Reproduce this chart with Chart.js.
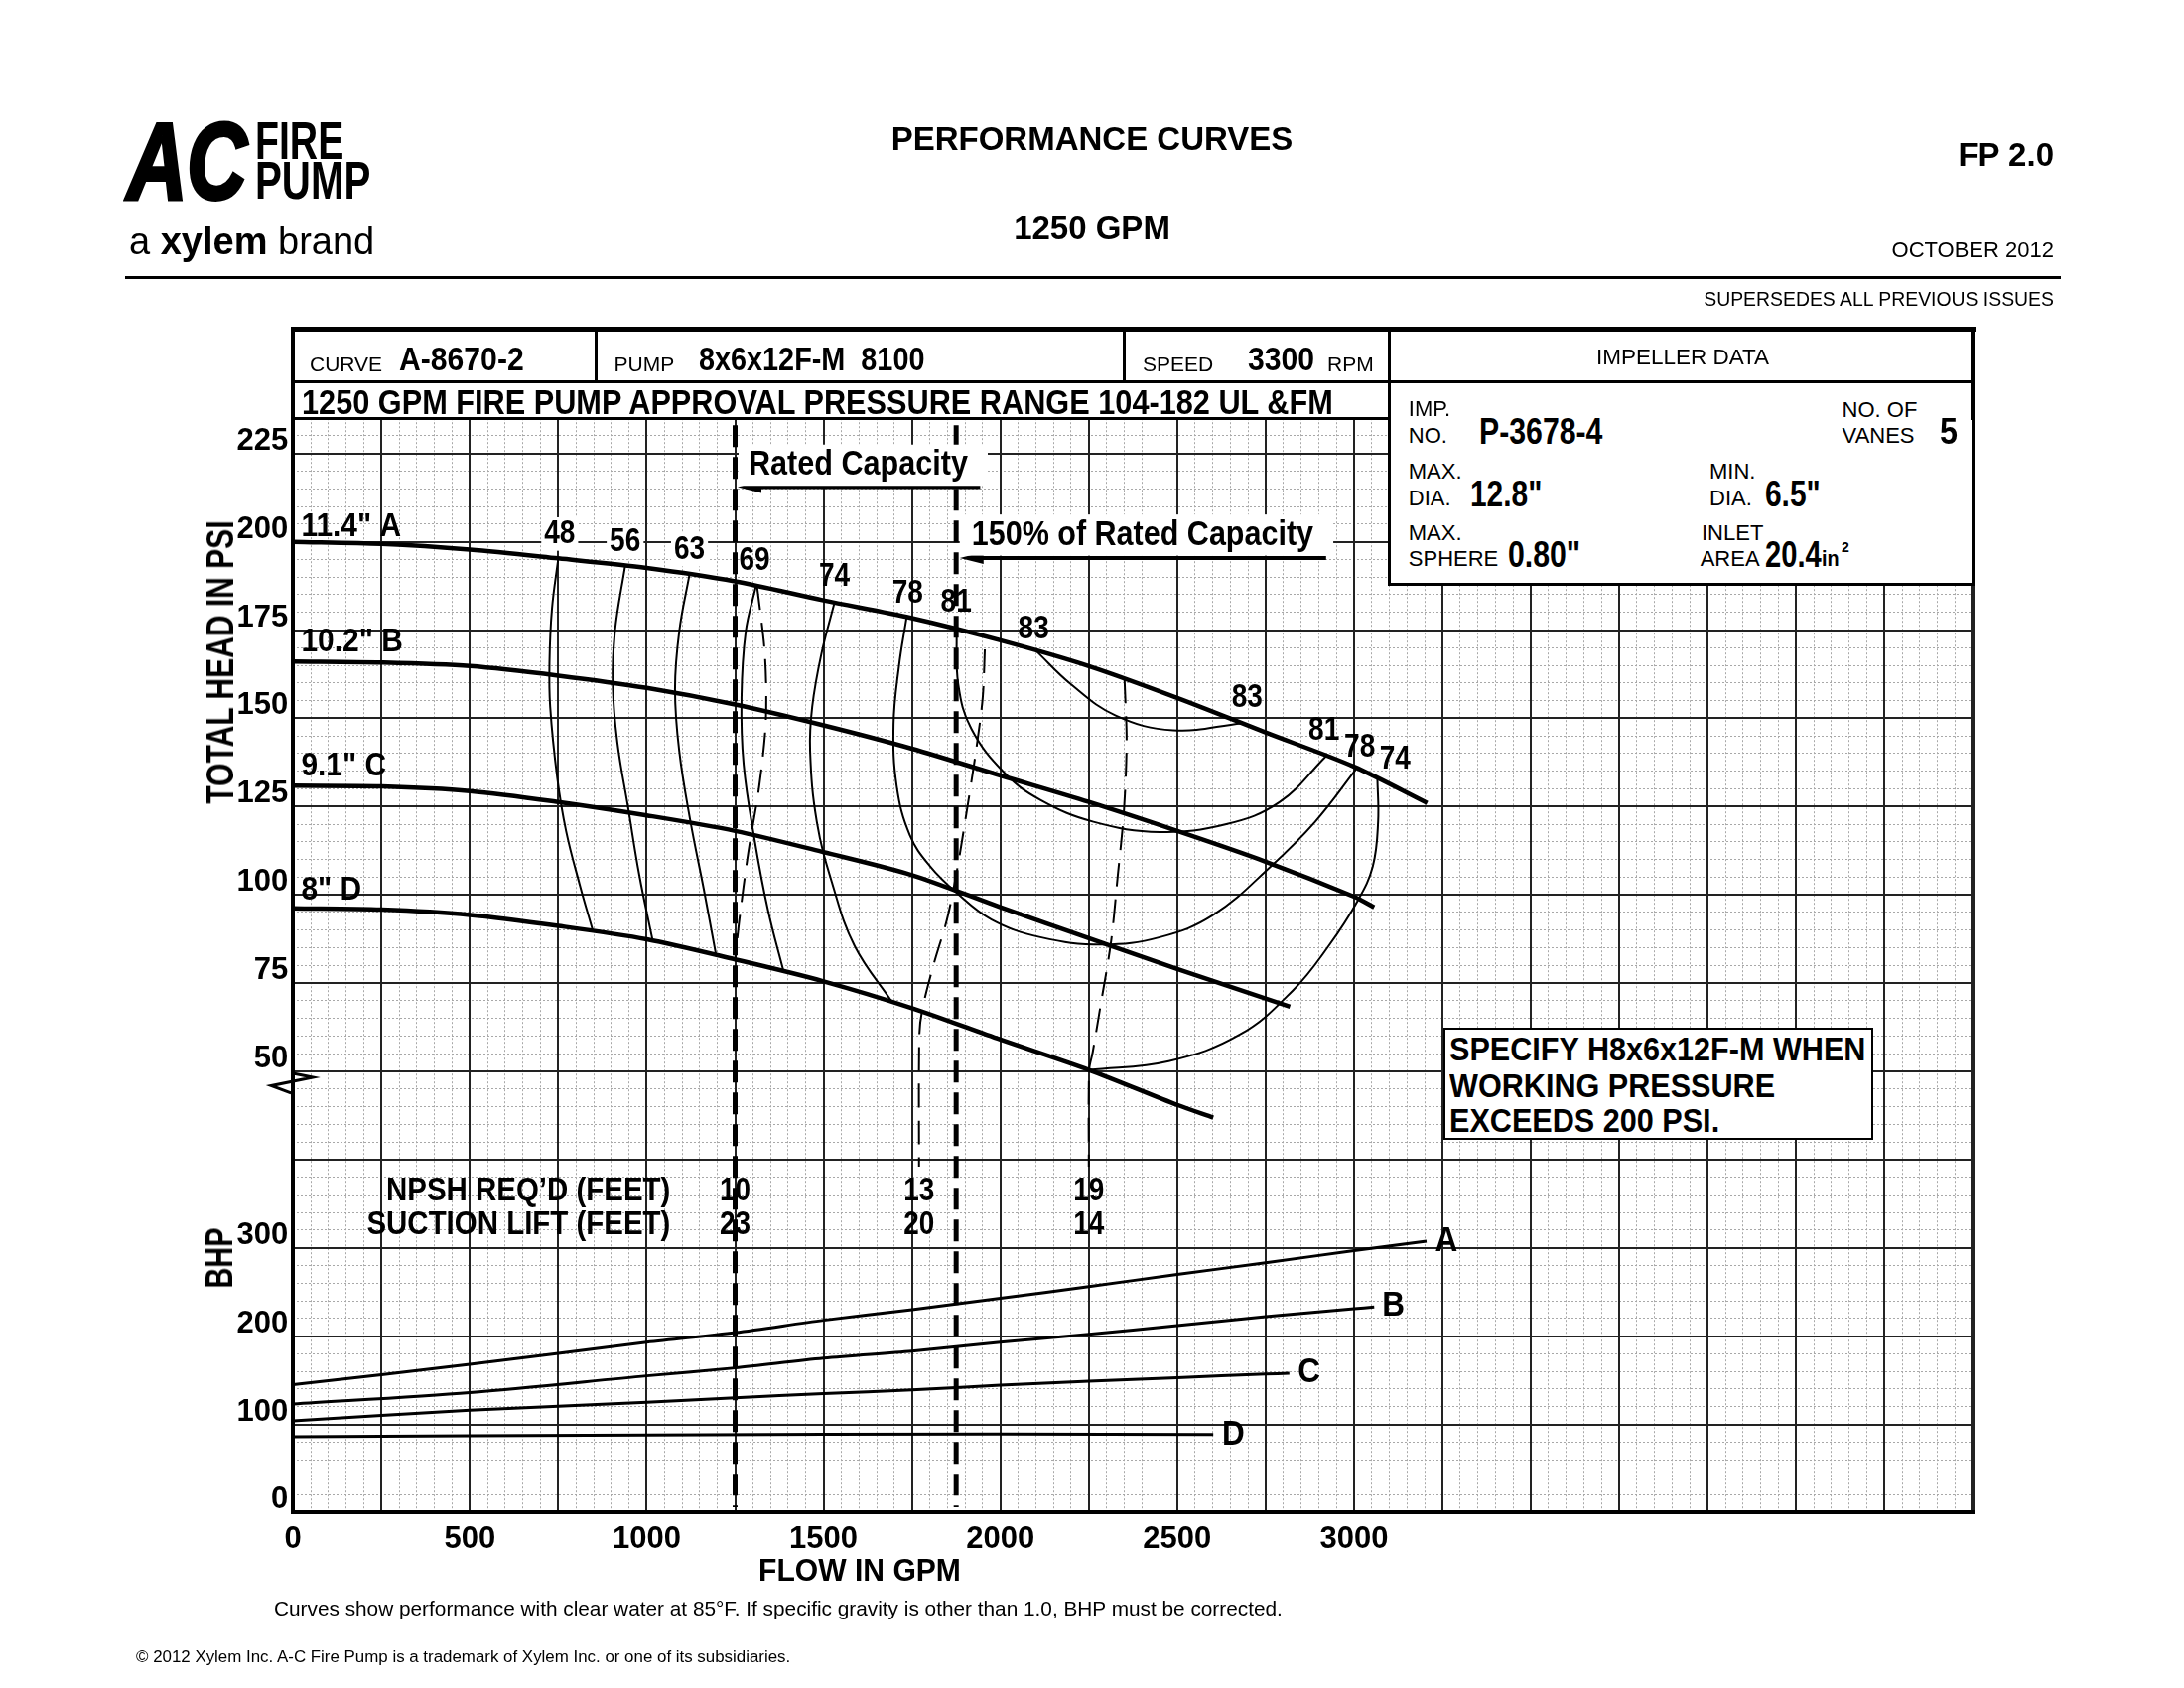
<!DOCTYPE html>
<html>
<head>
<meta charset="utf-8">
<title>Performance Curves 1250 GPM</title>
<script src="https://cdn.jsdelivr.net/npm/chart.js@4.4.1/dist/chart.umd.min.js"></script>
<style>
  html, body { margin: 0; padding: 0; background: #fff; }
  #page { position: relative; width: 2200px; height: 1700px; overflow: hidden; background: #fff;
          font-family: "Liberation Sans", Arial, Helvetica, sans-serif; color: #000; }
  #chart { position: absolute; left: 0; top: 0; }
  .t { position: absolute; white-space: pre; line-height: 1; }
  .ln { position: absolute; background: #000; }
  .box { position: absolute; background: #fff; border: 3px solid #000; box-sizing: border-box; }
</style>
</head>
<body>
<div id="page">
  <canvas id="chart" width="2200" height="1700"></canvas>
</div>
<script>
const FONT = '"Liberation Sans", Arial, Helvetica, sans-serif';

// axis tick labels
const flowTicks = [0, 500, 1000, 1500, 2000, 2500, 3000];
const psiTicks = [50, 75, 100, 125, 150, 175, 200, 225];
const bhpTicks = [0, 100, 200, 300];

// head curves (flow gpm, total head psi)
const flowA = [0, 250, 500, 750, 1000, 1250, 1500, 1750, 2000, 2250, 2500, 2750, 3000, 3207];
const headA = [200, 199.4, 197.8, 195.3, 192.6, 188.8, 183.4, 178.4, 172.1, 164.8, 155.8, 146.0, 136.3, 126.0];
const flowB = [0, 250, 500, 750, 1000, 1250, 1500, 1750, 2000, 2250, 2500, 2750, 3000, 3057];
const headB = [166.1, 165.8, 164.8, 162.1, 158.6, 153.9, 148.0, 141.4, 133.8, 126.3, 118.1, 109.4, 99.5, 96.5];
const flowC = [0, 250, 500, 750, 1000, 1250, 1500, 1750, 2000, 2250, 2500, 2819];
const headC = [130.9, 130.7, 129.4, 126.3, 122.5, 118.1, 112.1, 105.6, 96.5, 87.7, 79.0, 68.3];
const flowD = [0, 250, 500, 750, 1000, 1250, 1500, 1750, 2000, 2250, 2500, 2602];
const headD = [96.2, 95.8, 94.3, 91.2, 87.4, 81.7, 75.5, 67.9, 59.0, 50.4, 40.5, 36.9];
const headNames = ['11.4" A', '10.2" B', '9.1" C', '8" D'];

// brake horsepower curves (flow gpm, bhp)
const bhpFlowA = [0, 500, 1000, 1250, 1500, 1750, 2000, 2250, 2500, 2750, 3000, 3205];
const bhpA = [145, 168, 193, 204, 218, 230, 243, 256, 270, 283, 297, 307.5];
const bhpFlowB = [0, 500, 1000, 1250, 1500, 1750, 2000, 2250, 2500, 2750, 3000, 3057];
const bhpB = [123, 136, 155, 164, 175, 183, 193, 202, 212, 222, 231, 233];
const bhpFlowC = [0, 500, 1000, 1250, 1500, 1750, 2000, 2250, 2500, 2750, 2817];
const bhpC = [104, 116, 125, 130, 135, 139, 144.5, 149, 153, 157, 158];
const bhpFlowD = [0, 1000, 2000, 2602];
const bhpD = [86, 88, 89, 88.5];
const bhpNames = ["A", "B", "C", "D"];

// efficiency contours, % (flow, psi)
const effLevels = [48, 56, 63, 69, 74, 78, 81, 83];
const eff48 = [[750, 195.3], [732, 180.9], [725, 165.8], [727, 153.3], [747, 133.2], [772, 118.1], [810, 103.1], [848, 89.7]];
const eff56 = [[939, 193.2], [910, 174.6], [904, 159.6], [917, 143.2], [948, 124.4], [979, 105.6], [1017, 87.0]];
const eff63 = [[1121, 190.8], [1092, 174.6], [1080, 158.3], [1092, 140.7], [1124, 120.6], [1161, 101.8], [1196, 83.0]];
const eff69 = [[1309, 187.5], [1280, 174.6], [1268, 155.8], [1274, 137.0], [1305, 115.6], [1343, 95.6], [1387, 78.3]];
const eff74a = [[1531, 182.8], [1494, 168.3], [1468, 153.3], [1462, 140.7], [1481, 120.7], [1525, 103.1], [1588, 85.5], [1694, 69.6]];
const eff74b = [[3066, 133.0], [3068, 120.7], [3053, 108.1], [3009, 98.1], [2928, 85.5], [2828, 73.0], [2677, 60.4], [2476, 52.9], [2251, 50.4]];
const eff78 = [[1735, 178.7], [1713, 164.6], [1698, 148.3], [1707, 130.7], [1744, 116.9], [1801, 108.1], [1876, 100.6], [1975, 93.0],
               [2113, 88.0], [2288, 85.9], [2451, 88.0], [2602, 94.3], [2765, 108.1], [2890, 120.7], [3009, 136.0]];
const eff81 = [[1876, 175.2], [1881, 159.6], [1918, 147.0], [2012, 134.5], [2113, 126.9], [2263, 120.7], [2451, 117.8], [2639, 120.0],
               [2790, 126.3], [2921, 139.3]];
const eff83 = [[2100, 169.2], [2200, 159.6], [2326, 150.8], [2489, 146.6], [2683, 148.6]];

// NPSH required / suction lift
const npshFlow = [1250, 1770, 2250];
const npshReq = [10, 13, 19];
const suctionLift = [23, 20, 14];
const npsh1 = [[1312, 187.4], [1334, 168.3], [1337, 149.5], [1318, 130.7], [1287, 111.9], [1262, 93.0], [1250, 81.7]];
const npsh2 = [[1956, 169.5], [1950, 155.8], [1931, 140.7], [1900, 120.6], [1875, 105.6], [1849, 93.0], [1812, 80.5], [1780, 67.9],
               [1771, 60.4], [1770, 23]];
const npsh3 = [[2351, 161], [2357, 143.2], [2349, 123.2], [2332, 105.6], [2313, 86.8], [2282, 67.9], [2261, 55.4], [2251, 50.4], [2250, 23]];

// rated capacity and 150% of rated
const ratedFlows = [1250, 1875];

// psi axis runs on below 50 into the bhp block: 0 bhp sits at -75, 300 bhp at 0
const Y_MIN = -75, Y_MAX = 235, X_MAX = 4750;

function xy(xs, ys) { return xs.map((v, i) => ({ x: v, y: ys[i] })); }
function pairs(p) { return p.map(a => ({ x: a[0], y: a[1] })); }
function steps(a, b, s) { let r = []; for (let v = a; v <= b + 1e-6; v += s) r.push(Math.round(v * 100) / 100); return r; }
function noPad(s) { s.paddingTop = 0; s.paddingBottom = 0; s.paddingLeft = 0; s.paddingRight = 0; }

const tickFont = { family: FONT, size: 31, weight: "bold" };

function line(data, width, opts) {
  return Object.assign({ data: data, borderColor: "#000", borderWidth: width, pointRadius: 0, tension: 0.3, fill: false }, opts || {});
}

let datasets = [];
// head curves
[[flowA, headA], [flowB, headB], [flowC, headC], [flowD, headD]].forEach(c => datasets.push(line(xy(c[0], c[1]), 4.5)));
// efficiency
[eff48, eff56, eff63, eff69, eff74a, eff74b, eff78, eff81, eff83].forEach(c => datasets.push(line(pairs(c), 2, { tension: 0.4 })));
// npsh
[npsh1, npsh2, npsh3].forEach(c => datasets.push(line(pairs(c), 2, { borderDash: [24, 13] })));
// rated lines
ratedFlows.forEach(f => datasets.push(line([{ x: f, y: 233 }, { x: f, y: -73.5 }], 5, { borderDash: [22, 10], tension: 0 })));
// bhp
[[bhpFlowA, bhpA], [bhpFlowB, bhpB], [bhpFlowC, bhpC], [bhpFlowD, bhpD]].forEach(c =>
  datasets.push(line(xy(c[0], c[1]), 3, { yAxisID: "yb" })));

// text placed on the chart in data units
let chartLabels = [];
const headNameAt = [[23, 201.6], [23, 169.0], [23, 133.8], [23, 98.6]];
headNames.forEach((t, i) => chartLabels.push({ text: t, x: headNameAt[i][0], y: headNameAt[i][1], size: 34, sx: 0.88, align: "left", base: "alphabetic" }));
const effLabelAt = [[754, 202.2], [939, 200], [1121, 197.8], [1305, 194.7], [1531, 190], [1738, 185.3], [1875, 182.8], [2094, 175.3]];
effLevels.forEach((lv, i) => chartLabels.push({ text: String(lv), x: effLabelAt[i][0], y: effLabelAt[i][1], size: 33, sx: 0.85, bg: i < 3 ? [3, 2, 3] : null }));
const effRightAt = [[2698, 155.8, 83], [2915, 146.4, 81], [3016, 141.7, 78], [3116, 138.2, 74]];
effRightAt.forEach(p => chartLabels.push({ text: String(p[2]), x: p[0], y: p[1], size: 33, sx: 0.85 }));
chartLabels.push({ text: "NPSH REQ\u2019D (FEET)", x: 1067, y: 16.1, size: 34, sx: 0.866, align: "right" });
chartLabels.push({ text: "SUCTION LIFT (FEET)", x: 1067, y: 6.4, size: 34, sx: 0.866, align: "right" });
npshFlow.forEach((f, i) => {
  chartLabels.push({ text: String(npshReq[i]), x: f, y: 16.1, size: 34, sx: 0.82 });
  chartLabels.push({ text: String(suctionLift[i]), x: f, y: 6.4, size: 34, sx: 0.82 });
});
const bhpNameAt = [[3261, 307.7], [3111, 234.6], [2873, 159], [2659, 87.8]];
bhpNames.forEach((t, i) => chartLabels.push({ text: t, x: bhpNameAt[i][0], y: bhpNameAt[i][1], axis: "yb", size: 35, sx: 0.9 }));
chartLabels.push({ text: "Rated Capacity", x: 1598, y: 221.7, size: 35, sx: 0.874, bg: [10, 5, 20] });
chartLabels.push({ text: "150% of Rated Capacity", x: 2402, y: 201.9, size: 35, sx: 0.872, bg: [12, 5, 20] });
const arrows = [[1943, 1257, 215.5], [2921, 1885, 195.4]];

const chartText = {
  id: "chartText",
  afterDatasetsDraw(chart) {
    const ctx = chart.ctx, X = chart.scales.x, Y = chart.scales.y, YB = chart.scales.yb;
    ctx.save();
    ctx.fillStyle = "#000";
    ctx.strokeStyle = "#000";
    arrows.forEach(a => {
      const x1 = X.getPixelForValue(a[0]), x2 = X.getPixelForValue(a[1]), py = Y.getPixelForValue(a[2]);
      ctx.lineWidth = 4;
      ctx.beginPath(); ctx.moveTo(x1, py); ctx.lineTo(x2 + 18, py); ctx.stroke();
      ctx.beginPath(); ctx.moveTo(x2, py); ctx.lineTo(x2 + 24, py - 6); ctx.lineTo(x2 + 24, py + 6); ctx.closePath(); ctx.fill();
    });
    chartLabels.forEach(l => {
      const px = X.getPixelForValue(l.x);
      const py = (l.axis === "yb" ? YB : Y).getPixelForValue(l.y);
      const sx = l.sx || 1;
      ctx.save();
      ctx.translate(px, py);
      ctx.scale(sx, 1);
      ctx.font = "bold " + l.size + "px " + FONT;
      ctx.textAlign = l.align || "center";
      ctx.textBaseline = l.base || "middle";
      if (l.bg) {
        const w = ctx.measureText(l.text).width;
        const x0 = ctx.textAlign === "center" ? -w / 2 : ctx.textAlign === "right" ? -w : 0;
        ctx.fillStyle = "#fff";
        ctx.fillRect(x0 - l.bg[0] / sx, -l.size * 0.45 - l.bg[1], w + (l.bg[0] + l.bg[2]) / sx, l.size * 0.9 + 2 * l.bg[1]);
      }
      ctx.fillStyle = "#000";
      ctx.fillText(l.text, 0, 0);
      ctx.restore();
    });
    // axis break mark at 50 psi
    const bx = chart.chartArea.left, by = Y.getPixelForValue(50);
    ctx.lineWidth = 3;
    ctx.beginPath();
    ctx.moveTo(bx, by + 2); ctx.lineTo(bx + 20, by + 6); ctx.lineTo(bx - 22, by + 14.5); ctx.lineTo(bx - 2, by + 22);
    ctx.stroke();
    ctx.restore();
  }
};

new Chart(document.getElementById("chart"), {
  type: "line",
  data: { datasets: datasets },
  options: {
    responsive: false,
    animation: false,
    events: [],
    layout: { padding: { left: 0, top: 421.2, right: 2200 - 1987.4, bottom: 1700 - 1523.4 - 60 } },
    plugins: { legend: { display: false }, tooltip: { enabled: false } },
    scales: {
      xMinor: {
        type: "linear", position: "bottom", min: 0, max: X_MAX,
        afterBuildTicks: s => { s.ticks = steps(0, X_MAX, 50).map(v => ({ value: v })); },
        afterFit: s => { s.height = 0; noPad(s); },
        ticks: { display: false },
        grid: { color: "#a8a8a8", lineWidth: 1, drawTicks: false, z: -1, borderDash: [2, 2] },
        border: { display: false, dash: [2, 2] }
      },
      yMinor: {
        type: "linear", position: "left", min: Y_MIN, max: Y_MAX,
        afterBuildTicks: s => { s.ticks = steps(Y_MIN, Y_MAX, 5).map(v => ({ value: v })); },
        afterFit: s => { s.width = 0; noPad(s); },
        ticks: { display: false },
        grid: { color: "#a8a8a8", lineWidth: 1, drawTicks: false, z: -1, borderDash: [2, 2] },
        border: { display: false, dash: [2, 2] }
      },
      x: {
        type: "linear", position: "bottom", min: 0, max: X_MAX,
        afterBuildTicks: s => { s.ticks = steps(0, X_MAX, 250).map(v => ({ value: v })); },
        afterFit: s => { s.height = 60; noPad(s); },
        ticks: {
          autoSkip: false, maxRotation: 0, minRotation: 0, padding: 8, color: "#000", font: tickFont,
          callback: v => flowTicks.includes(v) ? String(v) : ""
        },
        grid: { color: "#222", lineWidth: c => (c.tick && (c.tick.value === 0 || c.tick.value === X_MAX)) ? 4 : 2, drawTicks: false },
        border: { display: true, color: "#000", width: 4 }
      },
      y: {
        type: "linear", position: "left", min: Y_MIN, max: Y_MAX,
        afterBuildTicks: s => { s.ticks = steps(Y_MIN, 225, 25).map(v => ({ value: v })); },
        afterFit: s => { s.width = 295.2; noPad(s); },
        ticks: {
          autoSkip: false, padding: 5, labelOffset: -12.5, color: "#000", font: tickFont,
          callback: v => {
            if (psiTicks.includes(v)) return String(v);
            const b = Math.round((v - Y_MIN) * 4);
            if (v <= 0 && bhpTicks.includes(b)) return String(b);
            return "";
          }
        },
        grid: { color: "#222", lineWidth: 2, drawTicks: false },
        border: { display: true, color: "#000", width: 4 }
      },
      yb: { type: "linear", display: false, min: 0, max: (Y_MAX - Y_MIN) * 4 }
    }
  },
  plugins: [chartText]
});

// page furniture
const page = document.getElementById("page");
function txt(s, x, base, size, o) {
  o = o || {};
  const el = document.createElement("div");
  el.className = "t";
  if (o.html) el.innerHTML = s; else el.textContent = s;
  el.style.fontSize = size + "px";
  el.style.fontWeight = o.bold ? "bold" : "normal";
  if (o.italic) el.style.fontStyle = "italic";
  if (o.stroke) el.style.webkitTextStroke = o.stroke + "px #000";
  el.style.left = x + "px";
  el.style.top = (base - 0.8465 * size) + "px";
  const al = o.align || "left";
  const shift = al === "center" ? "-50%" : al === "right" ? "-100%" : "0";
  el.style.transformOrigin = al === "center" ? "50% 50%" : al === "right" ? "100% 50%" : "0 50%";
  el.style.transform = "translateX(" + shift + ") scaleX(" + (o.sx || 1) + ")";
  page.appendChild(el);
  return el;
}
function vtxt(s, cx, cy, size, sx) {
  const el = document.createElement("div");
  el.className = "t";
  el.textContent = s;
  el.style.fontSize = size + "px";
  el.style.fontWeight = "bold";
  el.style.left = cx + "px";
  el.style.top = cy + "px";
  el.style.transformOrigin = "0 0";
  el.style.transform = "rotate(-90deg) scaleX(" + sx + ") translate(-50%, -50%)";
  page.appendChild(el);
}
function rule(x, y, w, h) {
  const el = document.createElement("div");
  el.className = "ln";
  el.style.left = x + "px"; el.style.top = y + "px"; el.style.width = w + "px"; el.style.height = h + "px";
  page.appendChild(el);
}
function box(x, y, w, h, bw) {
  const el = document.createElement("div");
  el.className = "box";
  el.style.left = x + "px"; el.style.top = y + "px"; el.style.width = w + "px"; el.style.height = h + "px";
  if (bw) el.style.borderWidth = bw + "px";
  page.appendChild(el);
}

// logo
txt("AC", 128, 200, 110, { bold: true, italic: true, sx: 0.76, stroke: 4 });
txt("FIRE", 257, 159.5, 53, { bold: true, sx: 0.74 });
txt("PUMP", 257, 200, 53, { bold: true, sx: 0.76 });
txt("a <b>xylem</b> brand", 130, 256, 38, { html: true });
rule(126, 278, 1950, 3);

// titles
txt("PERFORMANCE CURVES", 1100, 151, 33, { bold: true, align: "center" });
txt("1250 GPM", 1100, 241, 33, { bold: true, align: "center" });
txt("FP 2.0", 2069, 166.5, 33, { bold: true, align: "right" });
txt("OCTOBER 2012", 2069, 260, 22, { align: "right" });
txt("SUPERSEDES ALL PREVIOUS ISSUES", 2069, 308, 19.4, { align: "right" });

// header table
box(1398, 383, 591, 207, 3);
rule(293, 329, 1697, 5);
rule(293, 329, 4, 94);
rule(1985.4, 329, 4, 94);
rule(295, 382.5, 1692, 3);
rule(599, 331, 3, 53);
rule(1131, 331, 3, 53);
rule(1398, 331, 3, 55);
rule(295, 419.7, 1104, 3);

txt("CURVE", 312, 373.5, 21);
txt("A-8670-2", 401.5, 373.5, 33.5, { bold: true, sx: 0.9 });
txt("PUMP", 618.6, 373.5, 21);
txt("8x6x12F-M  8100", 704, 373.5, 33.5, { bold: true, sx: 0.86 });
txt("SPEED", 1151, 373.5, 21);
txt("3300", 1257, 373.5, 33.5, { bold: true, sx: 0.9 });
txt("RPM", 1337, 373.5, 21);
txt("IMPELLER DATA", 1695, 368, 22.5, { align: "center" });
txt("1250 GPM FIRE PUMP APPROVAL PRESSURE RANGE 104-182 UL &FM", 303.6, 416.5, 35, { bold: true, sx: 0.877 });

// impeller data
txt("IMP.", 1418.8, 420, 22);
txt("NO.", 1418.8, 446.5, 22);
txt("P-3678-4", 1490, 447, 36, { bold: true, sx: 0.84 });
txt("NO. OF", 1855.6, 421, 22);
txt("VANES", 1855.6, 446.5, 22);
txt("5", 1953.5, 447, 36, { bold: true, sx: 0.9 });
txt("MAX.", 1418.8, 483, 22);
txt("DIA.", 1418.8, 509.8, 22);
txt('12.8"', 1481, 510, 36, { bold: true, sx: 0.83 });
txt("MIN.", 1722, 483, 22);
txt("DIA.", 1722, 509.8, 22);
txt('6.5"', 1778, 510, 36, { bold: true, sx: 0.83 });
txt("MAX.", 1418.8, 545, 22);
txt("SPHERE", 1418.8, 571, 22);
txt('0.80"', 1518.8, 571, 36, { bold: true, sx: 0.84 });
txt("INLET", 1714, 545, 22);
txt("AREA", 1712.7, 571, 22);
txt("20.4", 1778, 571, 36, { bold: true, sx: 0.81 });
txt("in", 1835, 571, 22, { bold: true, sx: 0.9 });
txt("2", 1855, 556, 14, { bold: true });

// note box
box(1453.5, 1034.7, 433, 113, 2);
txt("SPECIFY H8x6x12F-M WHEN", 1459.6, 1068, 34, { bold: true, sx: 0.9 });
txt("WORKING PRESSURE", 1459.6, 1104.5, 34, { bold: true, sx: 0.9 });
txt("EXCEEDS 200 PSI.", 1459.6, 1140, 34, { bold: true, sx: 0.9 });

// axis titles
vtxt("TOTAL HEAD IN PSI", 222, 667, 38, 0.79);
vtxt("BHP", 221, 1267.4, 38, 0.76);
txt("FLOW IN GPM", 865.5, 1592, 32, { bold: true, align: "center", sx: 0.94 });

// footer
txt("Curves show performance with clear water at 85\u00b0F. If specific gravity is other than 1.0, BHP must be corrected.", 276, 1628, 20.8);
txt("\u00a9 2012 Xylem Inc. A-C Fire Pump is a trademark of Xylem Inc. or one of its subsidiaries.", 137, 1675, 16.9);
</script>
</body>
</html>
